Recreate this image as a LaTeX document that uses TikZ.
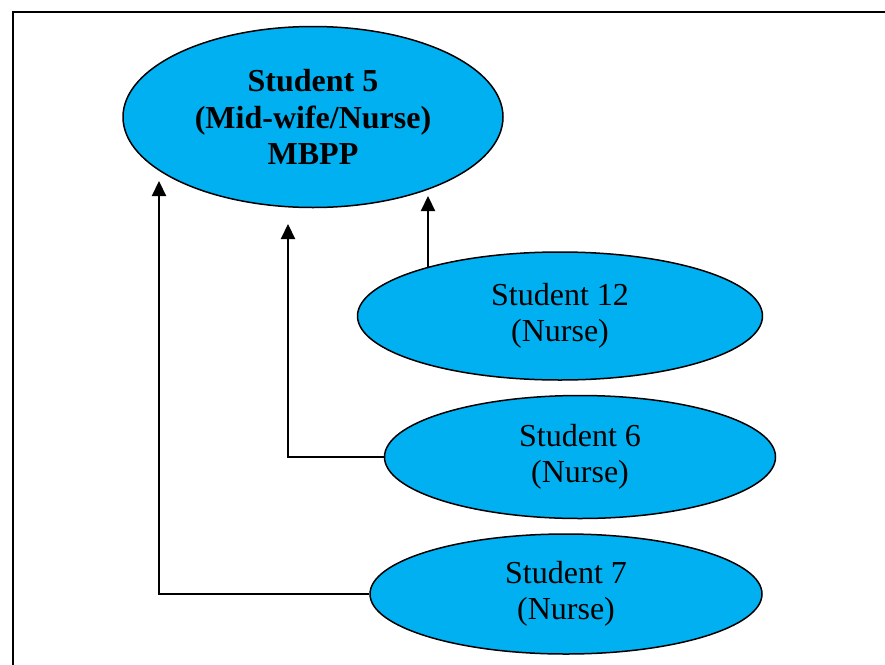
\documentclass[tikz,border=0pt]{standalone}
\usepackage{fontspec}
\setmainfont{Liberation Serif}
\usetikzlibrary{shapes.geometric,arrows.meta}
\definecolor{sky}{HTML}{00B0F0}
\begin{document}
\begin{tikzpicture}[x=1pt,y=-1pt,
  bubble/.style={ellipse,draw=black,line width=1.5pt,fill=sky,inner sep=0pt,align=center,
    font=\fontsize{32}{36.5}\selectfont},
  arr/.style={line width=2.2pt,-{Triangle[length=15pt,width=14pt]}}]
\clip (0,0) rectangle (885,664);
\useasboundingbox (0,0) rectangle (885,664);
\draw[line width=1.3pt] (13,12) rectangle (905,690);
\node[bubble,minimum width=380pt,minimum height=181pt,font=\fontsize{32}{36.5}\selectfont\bfseries] (s5) at (313,117) {Student 5\\(Mid-wife/Nurse)\\MBPP};
\node[bubble,minimum width=405pt,minimum height=128pt] (s12) at (560,316) {Student 12\\(Nurse)};
\node[bubble,minimum width=391pt,minimum height=123pt] (s6) at (580,457) {Student 6\\(Nurse)};
\node[bubble,minimum width=392pt,minimum height=120pt] (s7) at (566,594) {Student 7\\(Nurse)};
\coordinate (a1s) at (428,268);
\coordinate (a1e) at (428,196);
\coordinate (a2e) at (288,224);
\coordinate (a3e) at (159,181);
\draw[arr] (a1s) -- (a1e);
\draw[arr] (s6.west) -| (a2e);
\draw[arr] (s7.west) -| (a3e);
\end{tikzpicture}
\end{document}
